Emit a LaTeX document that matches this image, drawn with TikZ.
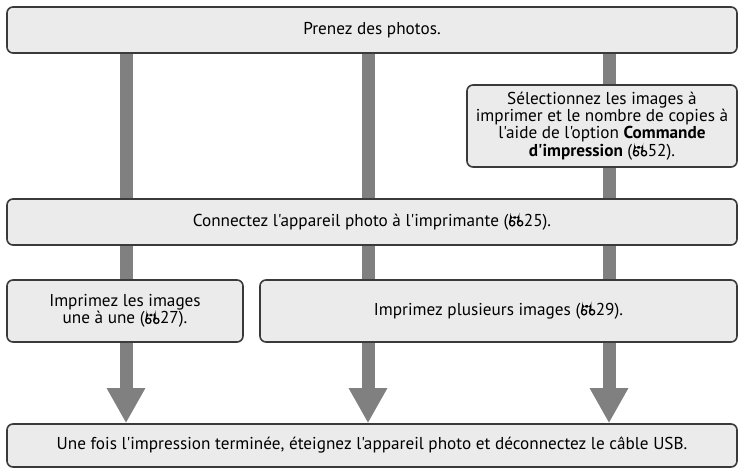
\documentclass[tikz,border=0pt]{standalone}
\usepackage{fontspec}
\newfontfamily\ptsans{PT Sans}
\usetikzlibrary{arrows.meta,backgrounds}
\definecolor{boxfill}{HTML}{EBEBEB}
\definecolor{boxline}{HTML}{3A3A3A}
\definecolor{bargray}{HTML}{808080}
\newcommand{\refmark}{\hspace{0.5pt}\tikz[baseline=0pt,x=1pt,y=1pt,line width=1.3pt]{%
  \draw (3.0,3.0) circle (2.6);
  \draw (0.45,3.4) -- (1.7,9.2);
  \fill (1.0,7.6) rectangle (10.2,10.0);
  \draw (11.0,3.0) circle (2.6);
  \draw (8.45,3.4) -- (9.6,9.2);
}\hspace{0.5pt}}
\tikzset{
  box/.style={draw=boxline, fill=boxfill, line width=1.6pt, rounded corners=6pt,
    inner sep=0pt, align=center, font=\ptsans\fontsize{17.2}{17.3}\selectfont},
  bar/.style={draw=bargray, line width=13pt},
  arr/.style={draw=bargray, line width=13pt, -{Triangle[width=36pt,length=35pt]}},
}
\begin{document}
\begin{tikzpicture}[x=1pt,y=-1pt]
\useasboundingbox (0,0) rectangle (740,473);
\coordinate (cA) at (126,0);
\coordinate (cB) at (368,0);
\coordinate (cC) at (609,0);
\node[box, minimum width=730pt, minimum height=46pt] (top) at (372,30) {Prenez des photos.};
\node[box, minimum width=270pt, minimum height=82pt] (sel) at (602,126)
  {Sélectionnez les images à\\imprimer et le nombre de copies à\\l'aide de l'option \textbf{Commande}\\\textbf{d'impression} (\refmark52).};
\node[box, minimum width=730pt, minimum height=46pt] (conn) at (372,222) {Connectez l'appareil photo à l'imprimante (\refmark25).};
\node[box, minimum width=236pt, minimum height=62pt] (one) at (125,311) {Imprimez les images\\une à une (\refmark27).};
\node[box, minimum width=477pt, minimum height=62pt] (multi) at (498.5,311) {Imprimez plusieurs images (\refmark29).};
\node[box, minimum width=730pt, minimum height=43pt] (end) at (372,445.5) {Une fois l'impression terminée, éteignez l'appareil photo et déconnectez le câble USB.};
\begin{scope}[on background layer]
\draw[bar] (top.south -| cA) -- (conn.north -| cA);
\draw[bar] (top.south -| cB) -- (conn.north -| cB);
\draw[bar] (top.south -| cC) -- (sel.north -| cC);
\draw[bar] (sel.south -| cC) -- (conn.north -| cC);
\draw[bar] (conn.south -| cA) -- (one.north -| cA);
\draw[bar] (conn.south -| cB) -- (multi.north -| cB);
\draw[bar] (conn.south -| cC) -- (multi.north -| cC);
\draw[arr] (one.south -| cA) -- (end.north -| cA);
\draw[arr] (multi.south -| cB) -- (end.north -| cB);
\draw[arr] (multi.south -| cC) -- (end.north -| cC);
\end{scope}
\end{tikzpicture}
\end{document}
